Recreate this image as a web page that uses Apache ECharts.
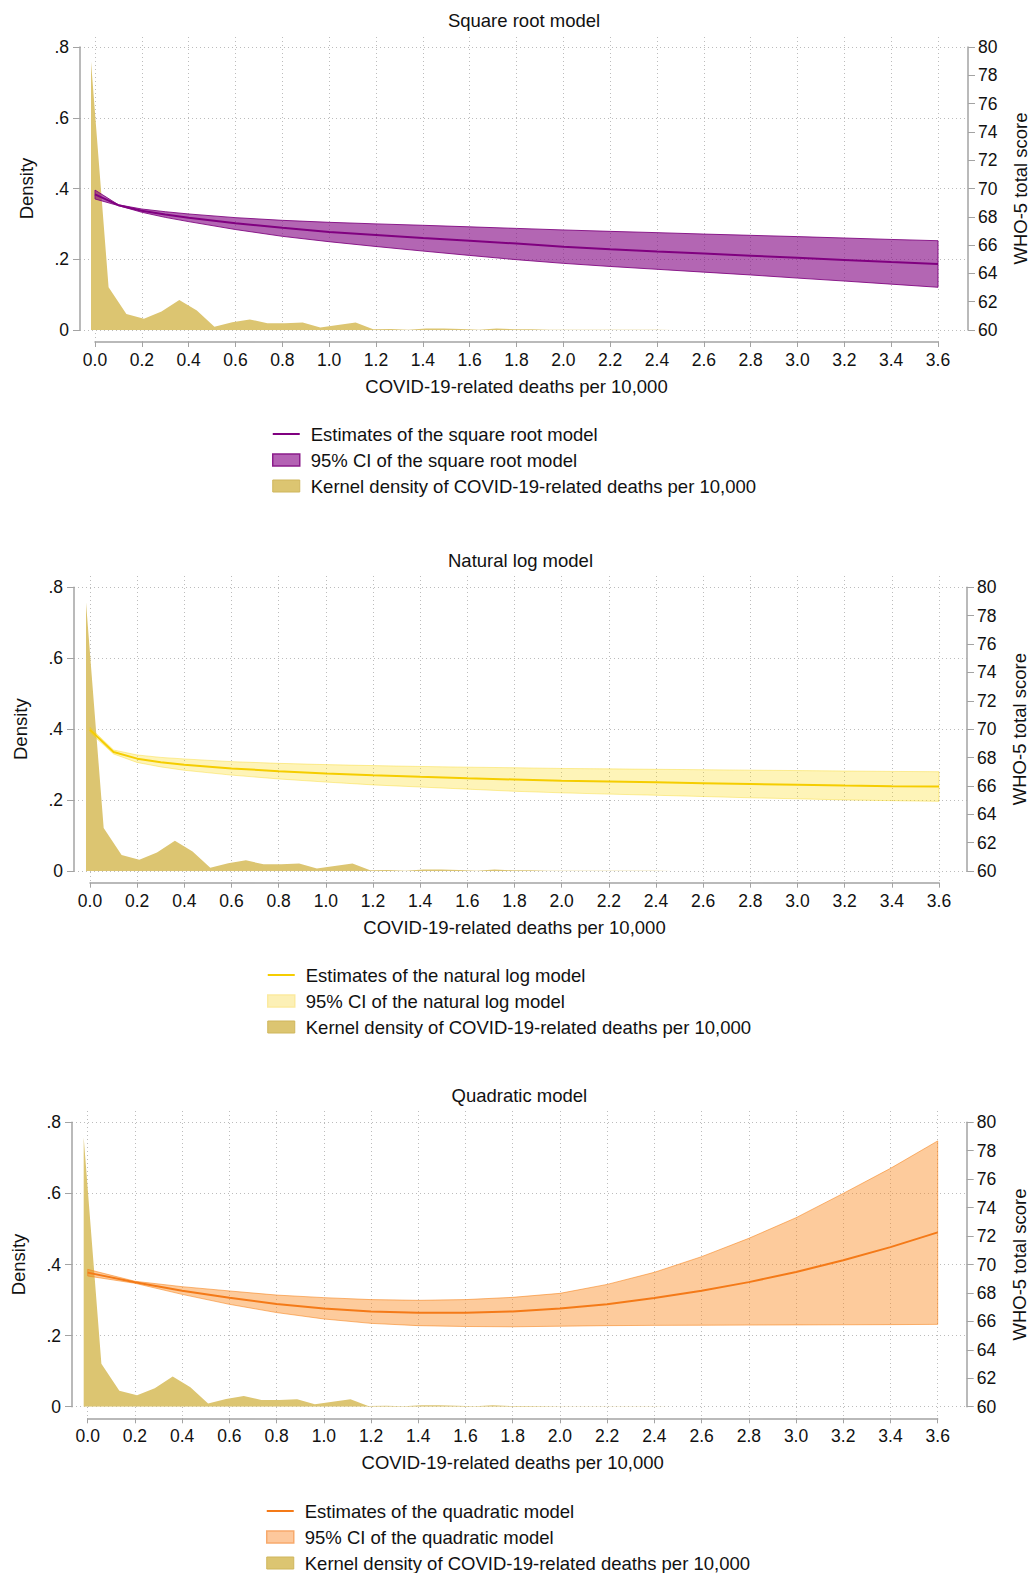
<!DOCTYPE html>
<html><head><meta charset="utf-8">
<script src="https://cdn.jsdelivr.net/npm/echarts@6/dist/echarts.min.js"></script>
<style>html,body{margin:0;padding:0;background:#fff}#c{width:1031px;height:1573px}</style>
</head><body><div id="c"></div>
<script>
// ---------------- data ----------------
const panelTitles = ['Square root model', 'Natural log model', 'Quadratic model'];
const estNames = ['Estimates of the square root model', 'Estimates of the natural log model', 'Estimates of the quadratic model'];
const ciNames = ['95% CI of the square root model', '95% CI of the natural log model', '95% CI of the quadratic model'];
const kdName = 'Kernel density of COVID-19-related deaths per 10,000';
const xAxisTitle = 'COVID-19-related deaths per 10,000';
const leftTitle = 'Density';
const rightTitle = 'WHO-5 total score';

// kernel density (same in every panel)
const densityX = [-0.017,0.058,0.134,0.209,0.284,0.360,0.435,0.510,0.586,0.661,0.736,0.811,0.887,0.962,1.037,1.113,1.188,1.263,1.338,1.414,1.489,1.564,1.640,1.715,1.790,1.866,1.941,2.016,2.092,2.167,2.242,2.318,2.393,2.468];
const densityY = [0.758,0.121,0.045,0.032,0.052,0.085,0.055,0.009,0.022,0.030,0.019,0.019,0.021,0.007,0.014,0.021,0.002,0.003,0.001,0.004,0.004,0.003,0.001,0.004,0.002,0.002,0.001,0.0005,0.0005,0.0005,0.0005,0.0005,0.0005,0];

// square root model
const sqrtX   = [0,0.1,0.2,0.3,0.4,0.6,0.8,1.0,1.2,1.4,1.6,1.8,2.0,2.2,2.4,2.6,2.8,3.0,3.2,3.4,3.6];
const sqrtEst = [69.59,68.82,68.43,68.16,67.94,67.54,67.22,66.93,66.72,66.51,66.31,66.11,65.89,65.71,65.54,65.40,65.25,65.10,64.95,64.80,64.66];
const sqrtUp  = [69.89,68.85,68.55,68.36,68.20,67.94,67.75,67.61,67.50,67.40,67.29,67.18,67.07,66.97,66.88,66.78,66.69,66.60,66.50,66.40,66.31];
const sqrtLo  = [69.26,68.79,68.32,67.96,67.66,67.10,66.62,66.24,65.90,65.58,65.27,64.97,64.71,64.49,64.29,64.09,63.89,63.67,63.46,63.24,63.02];

// natural log model
const logX   = [0,0.1,0.2,0.3,0.4,0.6,0.8,1.0,1.2,1.4,1.6,1.8,2.0,2.2,2.4,2.6,2.8,3.0,3.2,3.4,3.6];
const logEst = [69.95,68.39,67.92,67.67,67.49,67.23,67.04,66.88,66.75,66.64,66.54,66.45,66.37,66.31,66.25,66.19,66.13,66.08,66.02,65.98,65.95];
const logUp  = [70.12,68.53,68.18,68.01,67.90,67.71,67.59,67.50,67.43,67.37,67.32,67.28,67.23,67.20,67.17,67.14,67.11,67.08,67.05,67.02,67.00];
const logLo  = [69.76,68.25,67.65,67.34,67.10,66.76,66.49,66.27,66.07,65.92,65.77,65.62,65.51,65.42,65.34,65.25,65.16,65.09,65.01,64.96,64.91];

// quadratic model
const quadX   = [0,0.2,0.4,0.6,0.8,1.0,1.2,1.4,1.6,1.8,2.0,2.2,2.4,2.6,2.8,3.0,3.2,3.4,3.6];
const quadEst = [69.43,68.75,68.16,67.66,67.23,66.91,66.70,66.61,66.61,66.70,66.90,67.20,67.65,68.16,68.76,69.47,70.30,71.22,72.26];
const quadUp  = [69.66,68.82,68.44,68.14,67.85,67.67,67.53,67.48,67.53,67.69,67.97,68.60,69.45,70.55,71.84,73.29,75.00,76.76,78.69];
const quadLo  = [69.19,68.68,67.90,67.20,66.62,66.17,65.86,65.70,65.64,65.62,65.66,65.70,65.72,65.73,65.74,65.75,65.76,65.77,65.79];

// ---------------- layout & style ----------------
const FONT = "'Liberation Sans', Arial, 'DejaVu Sans', sans-serif";
const TXT = '#111111';
const AXIS = '#a3a3a3';
const GRIDC = '#bcbcbc';
const KD_COLOR = '#dcc571';
const KD_EDGE = '#cfb65c';

const layouts = [
  {leftAxis:80, x0:95, x36:938, right:968, top:47, bottom:330, xline:342, gtop:37, titleY:20, legendLeft:272, legendTop:424},
  {leftAxis:74, x0:90, x36:939, right:967, top:587.3, bottom:871, xline:882.7, gtop:576, titleY:560, legendLeft:267, legendTop:965},
  {leftAxis:72, x0:87.7, x36:937.7, right:966.7, top:1122.3, bottom:1406.7, xline:1418.3, gtop:1111, titleY:1095.7, legendLeft:266, legendTop:1501}
];
const styles = [
  {fill:'rgba(128,0,128,0.60)', edge:'rgba(125,0,125,0.85)', line:'#800080', legendFill:'#b462b4', legendEdge:'#8b1c8b'},
  {fill:'rgba(250,215,0,0.28)', edge:'rgba(245,210,0,0.35)', line:'#f5cd00', legendFill:'#fcf0b6', legendEdge:'#fbeaa0'},
  {fill:'rgba(250,130,20,0.42)', edge:'rgba(245,128,20,0.55)', line:'#f47a18', legendFill:'#fdc89c', legendEdge:'#f7a96c'}
];
const models = [
  {x:sqrtX, est:sqrtEst, up:sqrtUp, lo:sqrtLo},
  {x:logX, est:logEst, up:logUp, lo:logLo},
  {x:quadX, est:quadEst, up:quadUp, lo:quadLo}
];

const zip = (xs, ys) => xs.map((x, i) => [x, ys[i]]);

const option = {
  animation: false,
  backgroundColor: '#ffffff',
  textStyle: {fontFamily: FONT},
  grid: [], xAxis: [], yAxis: [], series: [], legend: [], graphic: []
};

layouts.forEach((L, p) => {
  const S = styles[p], M = models[p];
  const ppu = (L.x36 - L.x0) / 3.6;
  option.grid.push({left: L.leftAxis, top: L.top, width: L.right - L.leftAxis, height: L.bottom - L.top, containLabel: false, outerBoundsMode: 'none'});
  option.grid.push({left: L.x0, top: L.gtop, width: L.x36 - L.x0, height: L.xline - L.gtop, containLabel: false, outerBoundsMode: 'none'});

  option.xAxis.push({
    gridIndex: 2*p, type: 'value', show: false,
    min: -(L.x0 - L.leftAxis) / ppu, max: 3.6 + (L.right - L.x36) / ppu
  });
  option.xAxis.push({
    gridIndex: 2*p+1, type: 'value', min: 0, max: 3.6, interval: 0.2, position: 'bottom',
    axisLine: {show: true, onZero: false, lineStyle: {color: AXIS, width: 1.5}},
    axisTick: {show: true, length: 5, lineStyle: {color: AXIS, width: 1}},
    axisLabel: {fontSize: 17.5, color: TXT, margin: 9, fontFamily: FONT, formatter: v => v.toFixed(1)},
    splitLine: {show: true, lineStyle: {color: GRIDC, width: 1, type: [1, 3]}},
    name: xAxisTitle, nameLocation: 'middle', nameGap: 35,
    nameTextStyle: {fontSize: 18.5, color: TXT, fontFamily: FONT}
  });

  option.yAxis.push({
    gridIndex: 2*p, type: 'value', position: 'left', min: 0, max: 0.8, interval: 0.2,
    axisLine: {show: true, onZero: false, lineStyle: {color: AXIS, width: 1.5}},
    axisTick: {show: true, length: 7, lineStyle: {color: AXIS, width: 1}},
    axisLabel: {fontSize: 17.5, color: TXT, margin: 11, fontFamily: FONT,
      formatter: v => v === 0 ? '0' : v.toFixed(1).replace(/^0/, '')},
    splitLine: {show: true, lineStyle: {color: GRIDC, width: 1, type: [1, 3]}},
    name: leftTitle, nameLocation: 'middle', nameGap: 44,
    nameTextStyle: {fontSize: 18.5, color: TXT, fontFamily: FONT}
  });
  option.yAxis.push({
    gridIndex: 2*p, type: 'value', position: 'right', min: 60, max: 80, interval: 2,
    axisLine: {show: true, onZero: false, lineStyle: {color: AXIS, width: 1.5}},
    axisTick: {show: true, length: 7, lineStyle: {color: AXIS, width: 1}},
    axisLabel: {fontSize: 17.5, color: TXT, margin: 10, fontFamily: FONT},
    splitLine: {show: false},
    name: rightTitle, nameLocation: 'middle', nameGap: 43,
    nameTextStyle: {fontSize: 18.5, color: TXT, fontFamily: FONT}
  });
  option.yAxis.push({gridIndex: 2*p+1, type: 'value', min: 0, max: 1, show: false});

  const xi = 2*p, yl = 3*p, yr = 3*p+1;
  option.series.push({
    name: kdName, type: 'line', xAxisIndex: xi, yAxisIndex: yl, data: zip(densityX, densityY),
    symbol: 'none', smooth: false, z: 1, silent: true,
    lineStyle: {width: 0, color: KD_COLOR}, itemStyle: {color: KD_COLOR},
    areaStyle: {color: KD_COLOR, opacity: 1}
  });
  // 95% CI band: one polygon through the library's coordinate system
  option.series.push({
    name: ciNames[p], type: 'custom', xAxisIndex: xi, yAxisIndex: yr, z: 2, silent: true,
    coordinateSystem: 'cartesian2d',
    itemStyle: {color: S.legendFill},
    data: zip(M.x, M.up),
    encode: {x: 0, y: 1},
    renderItem: (params, api) => {
      if (params.dataIndex !== 0) return null;
      const pts = [];
      M.x.forEach((x, i) => pts.push(api.coord([x, M.up[i]])));
      for (let i = M.x.length - 1; i >= 0; i--) pts.push(api.coord([M.x[i], M.lo[i]]));
      return {type: 'polygon', shape: {points: pts}, style: {fill: S.fill, stroke: S.edge, lineWidth: 1}};
    }
  });
  option.series.push({
    name: estNames[p], type: 'line', xAxisIndex: xi, yAxisIndex: yr, data: zip(M.x, M.est),
    symbol: 'none', z: 4, silent: true, lineStyle: {width: 2, color: S.line}, itemStyle: {color: S.line}
  });

  option.legend.push({
    orient: 'vertical', left: L.legendLeft, top: L.legendTop, padding: 0, itemGap: 6,
    itemWidth: 27, itemHeight: 12, selectedMode: false, symbolKeepAspect: true,
    textStyle: {fontSize: 18.5, color: TXT, fontFamily: FONT, lineHeight: 20, padding: [0, 0, 0, 6]},
    data: [
      {name: estNames[p], icon: 'path://M0,0 L27,0 L27,2 L0,2 Z', itemStyle: {color: S.line, borderWidth: 0}},
      {name: ciNames[p], icon: 'rect', itemStyle: {color: S.legendFill, borderColor: S.legendEdge, borderWidth: 1.5}},
      {name: kdName, icon: 'rect', itemStyle: {color: KD_COLOR, borderColor: KD_EDGE, borderWidth: 1}}
    ]
  });

  option.graphic.push({
    type: 'text', x: (L.leftAxis + L.right) / 2, y: L.titleY,
    style: {text: panelTitles[p], fontSize: 18.5, fontFamily: FONT, fill: TXT, align: 'center', verticalAlign: 'middle'}
  });
});

const chart = echarts.init(document.getElementById('c'), null, {renderer: 'svg', width: 1031, height: 1573});
chart.setOption(option);
</script>
</body></html>
